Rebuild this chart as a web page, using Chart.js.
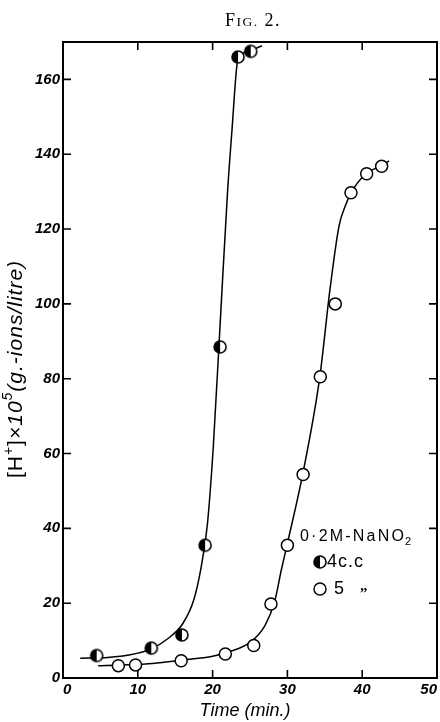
<!DOCTYPE html>
<html>
<head>
<meta charset="utf-8">
<script src="https://cdn.jsdelivr.net/npm/chart.js@4.4.1/dist/chart.umd.min.js"></script>
<style>
  html, body { margin: 0; padding: 0; background: #fff; overflow: hidden; }
  #wrap { width: 440px; height: 722px; position: relative; }
  #wrap canvas { display: block; }
</style>
</head>
<body>
<div id="wrap"><canvas id="fig2"></canvas></div>
<script>
// 0.2M-NaNO2, 4 c.c. run (half-filled circles)
const timeA = [4.5, 11.8, 15.9, 19.0, 21.0, 23.4, 25.1];
const hionA = [6, 8, 11.5, 35.5, 88.5, 166, 167.5];

// 0.2M-NaNO2, 5 c.c. run (open circles)
const timeB = [7.4, 9.7, 15.8, 21.7, 25.5, 27.8, 30.0, 32.1, 34.4, 36.4, 38.5, 40.6, 42.6];
const hionB = [3.3, 3.5, 4.6, 6.4, 8.7, 19.8, 35.5, 54.4, 80.5, 100, 129.7, 134.8, 136.8];

// hand-drawn smooth curves through each run
const curveAx = [2.3, 6, 9, 11.8, 14, 16, 17.5, 18.5, 19.3, 20.1, 21.1, 22.0, 22.6, 23.3, 23.8, 25.2, 26.6];
const curveAy = [5.3, 5.5, 6.2, 7.8, 10.5, 14.5, 21, 30, 41, 62, 98, 130, 146.7, 164.5, 166.6, 167.8, 169];
const curveBx = [4.7, 8, 12, 16, 20, 22.5, 25, 27, 28.3, 29.2, 30, 32, 34.3, 35.7, 36.9, 37.8, 38.5, 40.4, 42.4, 43.6];
const curveBy = [3.3, 3.5, 3.9, 4.8, 5.8, 7.2, 9.5, 14, 20.5, 29, 36, 54, 80, 104, 120.8, 126.5, 129.7, 134.6, 136.8, 138.2];

// axis ticks
const xTicks = [0, 10, 20, 30, 40, 50];
const yTicks = [0, 20, 40, 60, 80, 100, 120, 140, 160];
const xInnerTicks = [10, 20, 30, 40];
const yInnerTicks = [20, 40, 60, 80, 100, 120, 140, 160];

const pairs = (xs, ys) => xs.map((x, i) => ({ x: x, y: ys[i] }));

// marker: circle with the left half filled black
function halfDot(r) {
    const c = document.createElement('canvas');
    const s = 2 * r + 4;
    c.width = c.height = s;
    const g = c.getContext('2d');
    const m = s / 2;
    g.beginPath(); g.arc(m, m, r, 0, Math.PI * 2); g.fillStyle = '#fff'; g.fill();
    g.beginPath(); g.arc(m, m, r, Math.PI / 2, Math.PI * 1.5); g.closePath();
    g.fillStyle = '#000'; g.fill();
    g.beginPath(); g.arc(m, m, r, 0, Math.PI * 2);
    g.lineWidth = 1.6; g.strokeStyle = '#000'; g.stroke();
    return c;
}
const halfMarker = halfDot(6);

const tickFont = { family: 'Liberation Sans', size: 15, style: 'italic', weight: 'bold' };

// draws a row of [font, text, dy] pieces starting at x
function drawRuns(ctx, runs, x, y) {
    runs.forEach(r => {
        ctx.font = r[0];
        ctx.fillText(r[1], x, y + (r[2] || 0));
        x += ctx.measureText(r[1]).width;
    });
    return x;
}
function runsWidth(ctx, runs) {
    let w = 0;
    runs.forEach(r => { ctx.font = r[0]; w += ctx.measureText(r[1]).width; });
    return w;
}

// frame box, inward tick marks, figure caption, axis titles and the key
const decorations = {
    id: 'decorations',
    afterDraw(chart) {
        const ctx = chart.ctx;
        const a = chart.chartArea;
        const xs = chart.scales.x, ys = chart.scales.y;
        ctx.save();
        ctx.strokeStyle = '#000';
        ctx.lineWidth = 2;
        ctx.strokeRect(a.left, a.top, a.right - a.left, a.bottom - a.top);

        ctx.lineWidth = 1.6;
        const tl = 8;
        ctx.beginPath();
        xInnerTicks.forEach(v => {
            const px = xs.getPixelForValue(v);
            ctx.moveTo(px, a.bottom); ctx.lineTo(px, a.bottom - tl);
            ctx.moveTo(px, a.top); ctx.lineTo(px, a.top + tl);
        });
        yInnerTicks.forEach(v => {
            const py = ys.getPixelForValue(v);
            ctx.moveTo(a.left, py); ctx.lineTo(a.left + tl, py);
            ctx.moveTo(a.right, py); ctx.lineTo(a.right - tl, py);
        });
        ctx.stroke();

        ctx.fillStyle = '#000';
        // caption in small capitals
        ctx.textBaseline = 'alphabetic';
        ctx.textAlign = 'left';
        ctx.letterSpacing = '1.5px';
        const cap = [
            ['18px "Liberation Serif"', 'F'],
            ['13.5px "Liberation Serif"', 'IG.'],
            ['18px "Liberation Serif"', ' 2.']
        ];
        drawRuns(ctx, cap, 253 - runsWidth(ctx, cap) / 2, 26);
        ctx.letterSpacing = '0px';

        // x title
        ctx.font = 'italic 18px "Liberation Sans"';
        ctx.textAlign = 'center';
        ctx.textBaseline = 'middle';
        ctx.fillText('Time (min.)', 245, 711);

        // y title, rotated, with raised exponents
        ctx.save();
        ctx.translate(16, 369);
        ctx.rotate(-Math.PI / 2);
        ctx.textAlign = 'left';
        ctx.letterSpacing = '1px';
        const f = '21px "Liberation Sans"', fi = 'italic 21px "Liberation Sans"', fs = 'italic 14px "Liberation Sans"';
        const ytitle = [
            [f, '[H'], ['14px "Liberation Sans"', '+', -7], [f, ']'],
            [fi, '\u00D710'], [fs, '5', -8], [fi, '(g.-ions/litre)']
        ];
        drawRuns(ctx, ytitle, -runsWidth(ctx, ytitle) / 2, 0);
        ctx.letterSpacing = '0px';
        ctx.restore();

        // key
        const kx = a.left + 237, ky = a.top + 495;
        ctx.textAlign = 'left';
        ctx.textBaseline = 'middle';
        ctx.font = '16px "Liberation Sans"';
        ctx.letterSpacing = '2.2px';
        ctx.fillText('0\u00B72M-NaNO', kx, ky);
        const tw = ctx.measureText('0\u00B72M-NaNO').width;
        ctx.font = '11px "Liberation Sans"';
        ctx.fillText('2', kx + tw - 1, ky + 5);

        ctx.letterSpacing = '1px';
        ctx.font = '18px "Liberation Sans"';
        ctx.drawImage(halfMarker, kx + 20 - halfMarker.width / 2, ky + 25 - halfMarker.height / 2);
        ctx.fillText('4c.c', kx + 27, ky + 25);

        ctx.beginPath();
        ctx.arc(kx + 20, ky + 52, 6, 0, Math.PI * 2);
        ctx.lineWidth = 1.4;
        ctx.stroke();
        ctx.fillText('5', kx + 34, ky + 52);
        ctx.font = 'bold 15px "Liberation Serif"';
        ctx.fillText('\u201E', kx + 60, ky + 49);
        ctx.letterSpacing = '0px';
        ctx.restore();
    }
};

const ctx = document.getElementById('fig2').getContext('2d');
new Chart(ctx, {
    type: 'line',
    data: {
        datasets: [{
            label: '4 c.c. curve',
            data: pairs(curveAx, curveAy),
            borderColor: '#000',
            borderWidth: 1.5,
            pointRadius: 0,
            cubicInterpolationMode: 'monotone',
            order: 2
        }, {
            label: '5 c.c. curve',
            data: pairs(curveBx, curveBy),
            borderColor: '#000',
            borderWidth: 1.5,
            pointRadius: 0,
            cubicInterpolationMode: 'monotone',
            order: 2
        }, {
            label: '4 c.c.',
            data: pairs(timeA, hionA),
            showLine: false,
            pointStyle: halfMarker,
            pointRadius: 6,
            order: 1
        }, {
            label: '5 c.c.',
            data: pairs(timeB, hionB),
            showLine: false,
            pointStyle: 'circle',
            pointRadius: 6,
            pointBorderWidth: 1.5,
            pointBorderColor: '#000',
            pointBackgroundColor: '#fff',
            order: 1
        }]
    },
    options: {
        responsive: true,
        maintainAspectRatio: false,
        animation: false,
        layout: { autoPadding: false, padding: { top: 42, right: 3, left: 0, bottom: 0 } },
        plugins: {
            legend: { display: false },
            tooltip: { enabled: false }
        },
        scales: {
            x: {
                type: 'linear',
                min: 0,
                max: 50,
                afterBuildTicks: s => { s.ticks = xTicks.map(v => ({ value: v })); },
                afterFit: s => { s.height = 44; s.paddingLeft = 0; s.paddingRight = 0; },
                grid: { display: false, drawTicks: false },
                border: { display: false },
                ticks: { color: '#000', font: tickFont, padding: 3, maxRotation: 0, align: 'inner' }
            },
            y: {
                type: 'linear',
                min: 0,
                max: 170,
                afterBuildTicks: s => { s.ticks = yTicks.map(v => ({ value: v })); },
                afterFit: s => { s.width = 63; s.paddingTop = 0; s.paddingBottom = 0; },
                grid: { display: false, drawTicks: false },
                border: { display: false },
                ticks: { color: '#000', font: tickFont, padding: 3 }
            }
        }
    },
    plugins: [decorations]
});
</script>
</body>
</html>
